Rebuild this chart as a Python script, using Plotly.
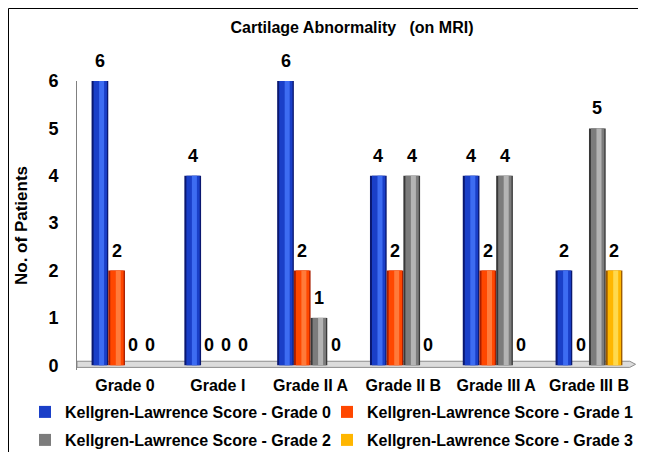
import plotly.graph_objects as go

categories = ["Grade 0", "Grade I", "Grade II A", "Grade II B", "Grade III A", "Grade III B"]
series_names = [
    "Kellgren-Lawrence Score - Grade 0",
    "Kellgren-Lawrence Score - Grade 1",
    "Kellgren-Lawrence Score - Grade 2",
    "Kellgren-Lawrence Score - Grade 3",
]
kl_grade0 = [6, 4, 6, 4, 4, 2]
kl_grade1 = [2, 0, 2, 2, 2, 0]
kl_grade2 = [0, 0, 1, 4, 4, 5]
kl_grade3 = [0, 0, 0, 0, 0, 2]
y_ticks = [0, 1, 2, 3, 4, 5, 6]

series_values = [kl_grade0, kl_grade1, kl_grade2, kl_grade3]
# cylinder shading: (edge, main, highlight)
palettes = [
    ("#0a1870", "#1a3fc8", "#3d6cf2"),
    ("#a81e00", "#ff4700", "#ff7a3a"),
    ("#383838", "#7c7c7c", "#b4b4b4"),
    ("#9a5a00", "#ffb600", "#ffd94d"),
]
legend_ids = ["legend", "legend2", "legend3", "legend4"]

FONT = "Liberation Sans, Arial, sans-serif"
BAR_W = 0.18
GROUP_LEFT = -0.36
layers = [(0.0, 1.0, 0), (0.12, 0.92, 1), (0.45, 0.75, 2)]

fig = go.Figure()
annotations = []
for i, (name, vals, pal, lg) in enumerate(zip(series_names, series_values, palettes, legend_ids)):
    left = GROUP_LEFT + i * BAR_W
    for (a, b, ci) in layers:
        fig.add_trace(go.Bar(
            x=categories, y=vals, name=name,
            width=BAR_W * (b - a), offset=left + BAR_W * a,
            marker=dict(color=pal[ci], line=dict(width=0)),
            showlegend=(ci == 1), legend=lg, legendgroup=name,
            hoverinfo="skip" if ci != 1 else None,
        ))
    for k, v in enumerate(vals):
        annotations.append(dict(
            x=k + left + BAR_W / 2, y=v, xref="x", yref="y",
            text=f"<b>{v}</b>", showarrow=False, yshift=20, yanchor="middle",
            font=dict(family=FONT, size=18, color="black"),
        ))

legend_common = dict(orientation="h", xref="container", yref="container",
                     xanchor="left", yanchor="middle", bgcolor="rgba(0,0,0,0)",
                     font=dict(size=16, family=FONT, weight="bold"), itemclick=False,
                     itemdoubleclick=False)

W, H = 646, 452
L, T, B = 69, 73, 90
PW = W - L
fig.update_layout(
    width=W, height=H,
    margin=dict(l=L, r=0, t=T, b=B, autoexpand=False),
    paper_bgcolor="white", plot_bgcolor="white",
    barmode="overlay",
    font=dict(family=FONT, color="black"),
    title=dict(text="<b>Cartilage Abnormality   (on MRI)</b>", x=344 / W, xref="container",
               y=1 - 19 / H, yref="container", xanchor="center", yanchor="middle",
               font=dict(size=16, family=FONT)),
    xaxis=dict(type="category", range=[-0.517, -0.517 + PW / 92.8], showline=False, showgrid=False,
               ticks="", ticklabelstandoff=4,
               tickfont=dict(size=16, family=FONT, weight="bold")),
    yaxis=dict(range=[-0.1, 6], tickvals=y_ticks, showgrid=False, zeroline=False,
               showline=True, linecolor="#808080", linewidth=1, ticks="",
               ticklabelstandoff=14,
               tickfont=dict(size=18, family=FONT, weight="bold"),
               title=dict(text="<b>No. of Patients</b>", font=dict(size=17, family=FONT), standoff=16)),
    legend=dict(x=17 / W, y=1 - 404 / H, **legend_common),
    legend2=dict(x=319 / W, y=1 - 404 / H, **legend_common),
    legend3=dict(x=17 / W, y=1 - 432 / H, **legend_common),
    legend4=dict(x=319 / W, y=1 - 432 / H, **legend_common),
    annotations=annotations,
    shapes=[
        dict(type="path", xref="paper", yref="y",
             path="M 0,0.085 L 0.958,0.085 L 0.968,0.02 L 0.958,-0.045 L 0,-0.045 Z",
             fillcolor="#dcdcdc", line=dict(color="#8c8c8c", width=1), layer="below"),
        dict(type="rect", xref="paper", yref="paper", x0=(0.5 - L) / PW, x1=1.1, y0=-0.5,
             y1=1 + (T - 0.5) / (H - T - B),
             line=dict(color="black", width=1), fillcolor="rgba(0,0,0,0)", layer="below"),
    ],
)

fig.write_html("out.html")
